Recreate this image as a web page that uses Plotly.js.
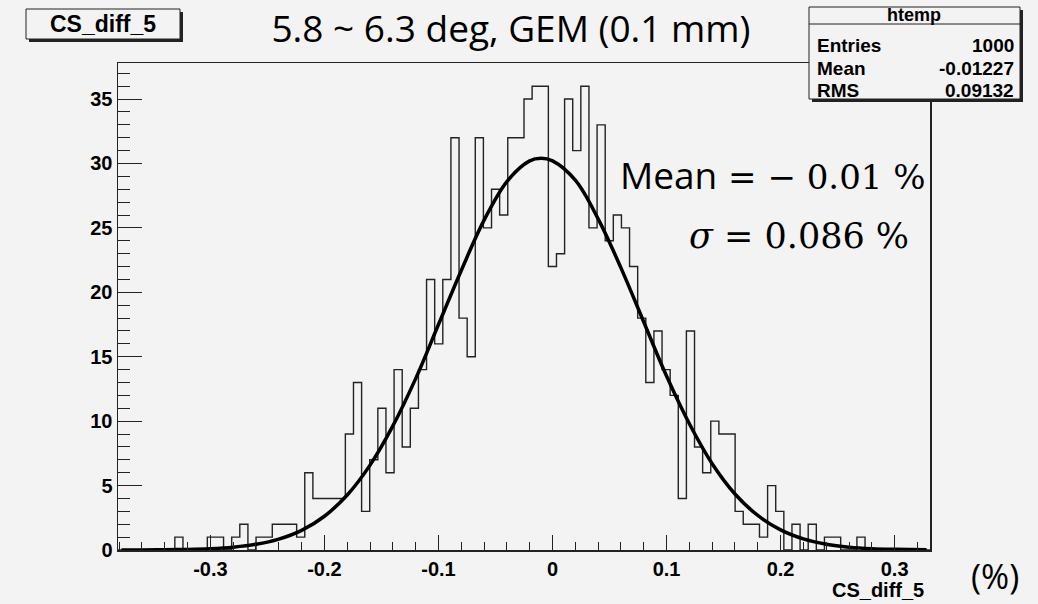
<!DOCTYPE html>
<html>
<head>
<meta charset="utf-8">
<script src="https://cdn.plot.ly/plotly-3.0.1.min.js"></script>
<style>
  html, body { margin: 0; padding: 0; background: #f3f3f3; }
  #chart { width: 1038px; height: 604px; }
</style>
</head>
<body>
<div id="chart"></div>
<script>
// ---- Data ----
const binLow = -0.381;      // histogram lower edge
const binWidth = 0.00712;   // 100 bins
const binCounts = [
  0, 0, 0, 0, 0, 0, 0, 1, 0, 0,
  0, 1, 1, 0, 1, 2, 0, 1, 1, 2,
  2, 2, 1, 6, 4, 4, 4, 4, 9, 13,
  3, 7, 11, 6, 14, 8, 11, 14, 21, 16,
  21, 32, 18, 15, 32, 25, 28, 26, 32, 32,
  35, 36, 36, 22, 23, 35, 31, 36, 25, 33,
  24, 26, 25, 22, 18, 13, 17, 14, 12, 4,
  17, 8, 6, 10, 9, 9, 3, 2, 2, 1,
  5, 3, 0, 2, 0, 2, 0, 1, 1, 0,
  0, 1, 0, 0, 0, 0, 0, 0, 0, 0
];
// fitted curve, points
const fitX = [-0.378, -0.36, -0.34, -0.32, -0.30, -0.28, -0.26, -0.24, -0.22, -0.20,
              -0.18, -0.16, -0.14, -0.12, -0.10, -0.08, -0.06, -0.04, -0.02, -0.01,
              0.00, 0.02, 0.04, 0.06, 0.08, 0.10, 0.12, 0.14, 0.16, 0.18,
              0.20, 0.22, 0.24, 0.26, 0.28, 0.30, 0.328];
const fitY = [0.004, 0.008, 0.02, 0.045, 0.10, 0.22, 0.44, 0.84, 1.52, 2.62,
              4.27, 6.59, 9.63, 13.3, 17.5, 21.7, 25.6, 28.6, 30.2, 30.4,
              30.2, 28.7, 25.7, 21.9, 17.7, 13.5, 9.8, 6.7, 4.35, 2.68,
              1.56, 0.86, 0.45, 0.22, 0.10, 0.05, 0.01];
const xTickVals = [-0.3, -0.2, -0.1, 0, 0.1, 0.2, 0.3];
const xTickText = ["-0.3", "-0.2", "-0.1", "0", "0.1", "0.2", "0.3"];
const statsTitle = "htemp";
const statsNames = ["Entries", "Mean", "RMS"];
const statsValues = ["1000", "-0.01227", "0.09132"];
const histName = "CS_diff_5";
const chartTitle = "5.8 ~ 6.3 deg, GEM (0.1 mm)";

// ---- Build step outline ----
const stepX = [], stepY = [];
for (let i = 0; i < binCounts.length; i++) {
  stepX.push(binLow + i * binWidth);
  stepY.push(binCounts[i]);
}
stepX.push(binLow + binCounts.length * binWidth);
stepY.push(binCounts[binCounts.length - 1]);

const xMin = binLow, xMax = binLow + binCounts.length * binWidth;
const yMax = 1.05 * Math.max(...binCounts);

// pixel -> paper helpers
const L = 118, R = 930, T = 63, B = 550;
const px = x => (x - L) / (R - L);
const py = y => (B - y) / (B - T);

const bg = '#f3f3f3';
const rootFam = 'Liberation Sans, Arial, sans-serif';
const labFont = { family: rootFam, size: 20, color: '#000', weight: 'bold' };

const traces = [
  {
    x: stepX, y: stepY, type: 'scatter', mode: 'lines',
    line: { shape: 'hv', color: '#222', width: 1.4 },
    hoverinfo: 'skip', showlegend: false
  },
  {
    x: fitX, y: fitY, type: 'scatter', mode: 'lines',
    line: { shape: 'spline', smoothing: 1, color: '#000', width: 3.5 },
    hoverinfo: 'skip', showlegend: false
  }
];

const shapes = [
  // stats box shadow + box
  { type: 'rect', xref: 'paper', yref: 'paper', x0: px(812), x1: px(1023), y0: py(102), y1: py(10),
    fillcolor: '#222', line: { width: 0 }, layer: 'above' },
  { type: 'rect', xref: 'paper', yref: 'paper', x0: px(809), x1: px(1020), y0: py(99), y1: py(7),
    fillcolor: bg, line: { color: '#222', width: 1 }, layer: 'above' },
  { type: 'line', xref: 'paper', yref: 'paper', x0: px(809), x1: px(1020), y0: py(24), y1: py(24),
    line: { color: '#222', width: 1 }, layer: 'above' },
  // histogram name box
  { type: 'rect', xref: 'paper', yref: 'paper', x0: px(29), x1: px(183), y0: py(42), y1: py(12),
    fillcolor: '#222', line: { width: 0 }, layer: 'above' },
  { type: 'rect', xref: 'paper', yref: 'paper', x0: px(26), x1: px(180), y0: py(39), y1: py(9),
    fillcolor: bg, line: { color: '#222', width: 1 }, layer: 'above' }
];

const annotations = [
  { xref: 'paper', yref: 'paper', x: px(914), y: py(15), text: '<b>' + statsTitle + '</b>', showarrow: false,
    xanchor: 'center', yanchor: 'middle', font: { family: rootFam, size: 18, color: '#000' } },
  { xref: 'paper', yref: 'paper', x: px(103), y: py(24), text: '<b>' + histName + '</b>', showarrow: false,
    xanchor: 'center', yanchor: 'middle', font: { family: rootFam, size: 23, color: '#000' } },
  { xref: 'paper', yref: 'paper', x: px(926), y: py(590), text: '<b>' + histName + '</b>', showarrow: false,
    xanchor: 'right', yanchor: 'middle', font: { family: rootFam, size: 20, color: '#000' } },
  { xref: 'paper', yref: 'paper', x: px(995), y: py(576), text: '(%)', showarrow: false,
    xanchor: 'center', yanchor: 'middle', font: { family: 'Open Sans, sans-serif', size: 34, color: '#000' } },
  { xref: 'paper', yref: 'paper', x: px(928), y: py(174),
    text: 'Mean<span style="font-family:DejaVu Serif;font-size:34px"> = − 0.01 %</span>', showarrow: false,
    xanchor: 'right', yanchor: 'middle', font: { family: 'Open Sans, sans-serif', size: 37, color: '#000' } },
  { xref: 'paper', yref: 'paper', x: px(911), y: py(236),
    text: '<i>σ</i> = 0.086 %', showarrow: false,
    xanchor: 'right', yanchor: 'middle', font: { family: 'DejaVu Serif, serif', size: 35, color: '#000' } }
];
const rowY = [45, 68, 90];
for (let i = 0; i < statsNames.length; i++) {
  annotations.push({ xref: 'paper', yref: 'paper', x: px(815), y: py(rowY[i]), text: '<b>' + statsNames[i] + '</b>',
    showarrow: false, xanchor: 'left', yanchor: 'middle', font: { family: rootFam, size: 19, color: '#000' } });
  annotations.push({ xref: 'paper', yref: 'paper', x: px(1016), y: py(rowY[i]), text: '<b>' + statsValues[i] + '</b>',
    showarrow: false, xanchor: 'right', yanchor: 'middle', font: { family: rootFam, size: 19, color: '#000' } });
}

const layout = {
  width: 1038, height: 604,
  margin: { l: L, r: 1038 - R, t: T, b: 604 - B, pad: 0 },
  paper_bgcolor: bg, plot_bgcolor: bg,
  showlegend: false,
  title: {
    text: chartTitle, xref: 'container', yref: 'container',
    x: 511 / 1038, y: 1 - 29 / 604, xanchor: 'center', yanchor: 'middle',
    font: { family: 'Open Sans, sans-serif', size: 37, color: '#000' }
  },
  xaxis: {
    range: [xMin, xMax], tickvals: xTickVals, ticktext: xTickText,
    ticks: 'inside', ticklen: 15, tickwidth: 1, tickcolor: '#222',
    minor: { dtick: 0.02, tick0: 0, ticks: 'inside', ticklen: 8, tickcolor: '#222', tickwidth: 1, showgrid: false },
    showgrid: false, zeroline: false, showline: true, linecolor: '#222', linewidth: 1.5, mirror: true,
    tickfont: labFont, fixedrange: true
  },
  yaxis: {
    range: [0, yMax], dtick: 5, tick0: 0,
    ticks: 'inside', ticklen: 24, tickwidth: 1, tickcolor: '#222',
    minor: { dtick: 1, tick0: 0, ticks: 'inside', ticklen: 12, tickcolor: '#222', tickwidth: 1, showgrid: false },
    showgrid: false, zeroline: false, showline: true, linecolor: '#222', linewidth: 1.5, mirror: true,
    tickfont: labFont, fixedrange: true
  },
  shapes: shapes,
  annotations: annotations
};

Plotly.newPlot('chart', traces, layout, { staticPlot: true, displayModeBar: false });
</script>
</body>
</html>
